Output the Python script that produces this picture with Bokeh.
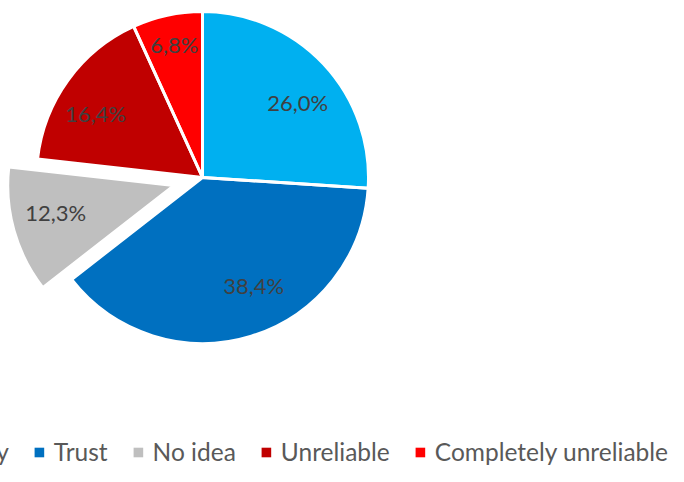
import math
from bokeh.plotting import figure
from bokeh.models import Range1d, Legend, LegendItem, ColumnDataSource
from bokeh.core.properties import value
from bokeh.embed import file_html
from bokeh.resources import INLINE

# ---- data ----
categories = ["Trust completely", "Trust", "No idea", "Unreliable", "Completely unreliable"]
shares = [26.0, 38.4, 12.3, 16.4, 6.8]
colors = ["#00B0F0", "#0070C0", "#BFBFBF", "#C00000", "#FF0000"]
explode = [0.0, 0.0, 0.18, 0.0, 0.0]
# label placement (fraction of radius, angular nudge in degrees)
label_pos = [0.73, 0.72, 0.73, 0.75, 0.82]
label_nudge = [-4.9, 8.2, -2.8, 5.1, -0.3]

# ---- layout ----
W, H = 668, 466
CX, CY, R = 202, H - 177, 166

p = figure(width=W, height=H, output_backend="svg", toolbar_location=None,
           x_range=Range1d(0, W), y_range=Range1d(0, H),
           x_axis_type=None, y_axis_type=None, min_border=0)
p.grid.visible = False
p.outline_line_color = None
p.background_fill_color = "white"
p.border_fill_color = "white"

total = sum(shares)
starts, ends, xs, ys, lx, ly, labels = [], [], [], [], [], [], []
cum = 0.0
for v, ex, lp, nd in zip(shares, explode, label_pos, label_nudge):
    a0 = math.radians(90 - cum / total * 360)
    cum += v
    a1 = math.radians(90 - cum / total * 360)
    mid = (a0 + a1) / 2
    x0 = CX + ex * R * math.cos(mid)
    y0 = CY + ex * R * math.sin(mid)
    starts.append(a1)
    ends.append(a0)
    xs.append(x0)
    ys.append(y0)
    la = mid + math.radians(nd)
    lx.append(x0 + lp * R * math.cos(la))
    ly.append(y0 + lp * R * math.sin(la))
    labels.append(f"{v:.1f}".replace(".", ",") + "%")

src = ColumnDataSource(dict(x=xs, y=ys, start=starts, end=ends, color=colors,
                            lx=lx, ly=ly, label=labels, cat=categories))

r = p.wedge(x="x", y="y", radius=R, start_angle="start", end_angle="end",
            direction="anticlock", fill_color="color", line_color=None, source=src)
p.wedge(x="x", y="y", radius=R, start_angle="start", end_angle="end",
        direction="anticlock", fill_alpha=0, line_color="white", line_width=3, source=src)

p.text(x="lx", y="ly", text="label", source=src, text_align="center",
       text_baseline="middle", text_font=value("Lato"), text_font_size="22px",
       text_color="#404040")

legend = Legend(items=[LegendItem(label=c, renderers=[r], index=i) for i, c in enumerate(categories)],
                location="bottom_right", orientation="horizontal",
                label_text_font="Lato", label_text_font_size="24.5px",
                label_text_color="#595959", glyph_width=12, glyph_height=12,
                label_height=12, label_standoff=9, spacing=24, padding=0, margin=0,
                border_line_alpha=0, background_fill_alpha=0)
p.add_layout(legend)

open("out.html", "w").write(file_html(p, INLINE))
